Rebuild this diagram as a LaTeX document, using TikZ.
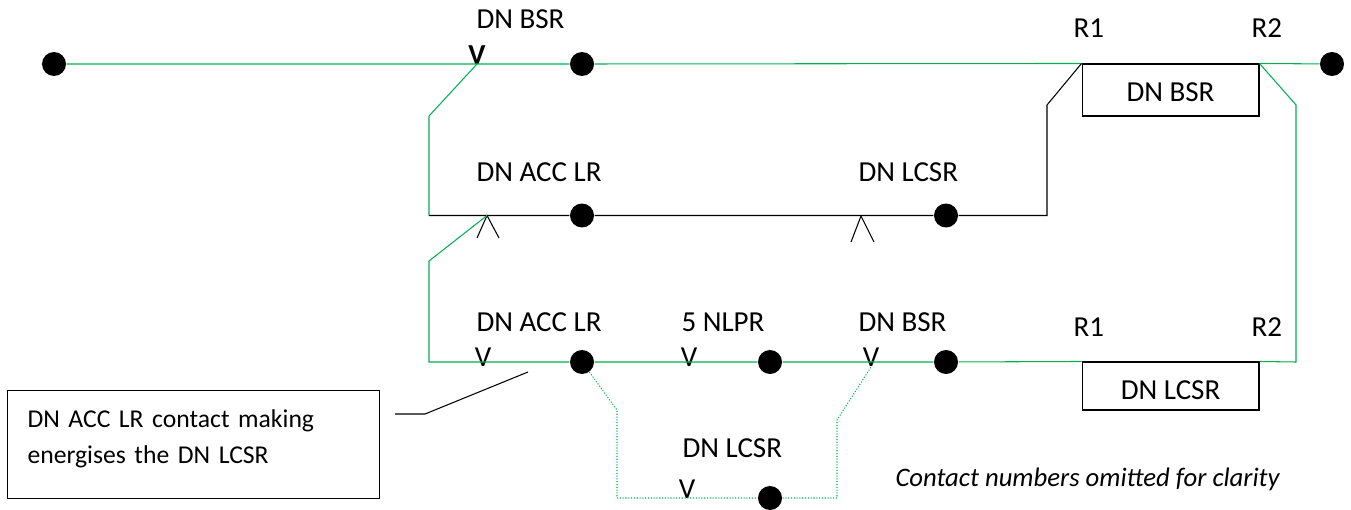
\documentclass[tikz,border=0pt]{standalone}
\usepackage{fontspec}
\setmainfont{Carlito}
\definecolor{wiregreen}{HTML}{00B050}

\begin{document}
\begin{tikzpicture}[x=0.02cm,y=-0.02cm,line width=0.6pt,
  dot/.style={circle,fill=black,inner sep=0pt,minimum size=0.48cm},
  lbl/.style={anchor=base west,inner sep=0pt},
  contact/.style={anchor=base,inner sep=0pt},
  wire/.style={wiregreen},
  wiredot/.style={wiregreen,densely dotted},
  relay/.style={draw,inner sep=0pt,minimum width=3.54cm}]
\useasboundingbox (0,0) rectangle (1351,510);
\fontsize{16.5}{20.4}\selectfont
% top row
\node[dot] (t0) at (54,64) {};
\node[dot] (t1) at (582,64) {};
\node[dot] (t2) at (1332,64) {};
\node[contact,font=\bfseries] (tv) at (477,65) {V};
\coordinate (tc) at (477,64);
\node[lbl] (tl) at (476,29) {DN BSR};
\node[relay,text height=0.76cm,text depth=0.28cm] (bsr) at (1170.5,90) {DN BSR};
\node[lbl] (r1a) at (1073,38) {R1};
\node[lbl] (r2a) at (1251,38) {R2};
% middle row
\node[dot] (m1) at (582,215.5) {};
\node[dot] (m2) at (946,215.5) {};
\node[lbl] (ml1) at (476,181) {DN ACC LR};
\node[lbl] (ml2) at (858,181) {DN LCSR};
\coordinate (ma) at (429,215.5);
\coordinate (mb) at (1047,215.5);
\coordinate (mc) at (1047,105);
\coordinate (md) at (429,116);
\coordinate (ap1) at (487,215.5);
\coordinate (ap1a) at (477,238);
\coordinate (ap1b) at (499,238);
\coordinate (ap2) at (861,216);
\coordinate (ap2a) at (851,242);
\coordinate (ap2b) at (874,242);
% bottom row
\node[dot] (b1) at (582,362) {};
\node[dot] (b2) at (770,362) {};
\node[dot] (b3) at (946,362) {};
\node[contact] (bv1) at (483,366) {V};
\node[contact] (bv2) at (689,366) {V};
\node[contact] (bv3) at (871,366) {V};
\node[lbl] (bl1) at (476,331) {DN ACC LR};
\node[lbl] (bl2) at (681,331) {5 NLPR};
\node[lbl] (bl3) at (858,331) {DN BSR};
\node[relay,text height=0.74cm,text depth=0.22cm] (lcsr) at (1170.5,386) {DN LCSR};
\node[lbl] (r1b) at (1073,336) {R1};
\node[lbl] (r2b) at (1251,336) {R2};
\coordinate (ba) at (429,362);
\coordinate (bb) at (429,261);
\coordinate (bc) at (1296,362);
\coordinate (bd) at (1296,105);
\coordinate (bq) at (871,367);
% stick row
\node[dot] (s1) at (770,498) {};
\node[contact] (sv) at (687,498) {V};
\node[lbl] (sl) at (682,457) {DN LCSR};
\coordinate (sa) at (617,410);
\coordinate (sb) at (617,498);
\coordinate (sc) at (837,498);
\coordinate (sd) at (837,420);
% note
\node[draw,anchor=north west,inner sep=0pt,minimum width=7.44cm,minimum height=2.16cm,
  text width=6.64cm,align=left,text height=0.3cm,text depth=0.98cm,font=\fontsize{14.6}{20.4}\selectfont] (note) at (7,390) {DN ACC LR contact making\\energises the DN LCSR};
\coordinate (na) at (395,414);
\coordinate (nb) at (425,414);
\coordinate (nc) at (528,372);
\node[lbl,font=\fontsize{15.2}{18}\selectfont\itshape] (om) at (895,486) {Contact numbers omitted for clarity};
% wires
\draw[wire] (t0) -- (t1) -- (bsr.north west);
\draw[wire] (bsr.north east) -- (t2);
\draw[wire] (tc) -- (md) -- (ma);
\draw (ma) -- (m1) -- (m2) -- (mb) -- (mc) -- (bsr.north west);
\draw (ap1a) -- (ap1) -- (ap1b);
\draw (ap2a) -- (ap2) -- (ap2b);
\draw[wire] (ap1) -- (bb) -- (ba) -- (b1) -- (b2) -- (b3) -- (lcsr.north west);
\draw[wire] (lcsr.north east) -- (bc) -- (bd) -- (bsr.north east);
\draw[wiredot] (b1) -- (sa) -- (sb) -- (s1) -- (sc) -- (sd) -- (bq);
\draw (na) -- (nb) -- (nc);
\end{tikzpicture}
\end{document}
